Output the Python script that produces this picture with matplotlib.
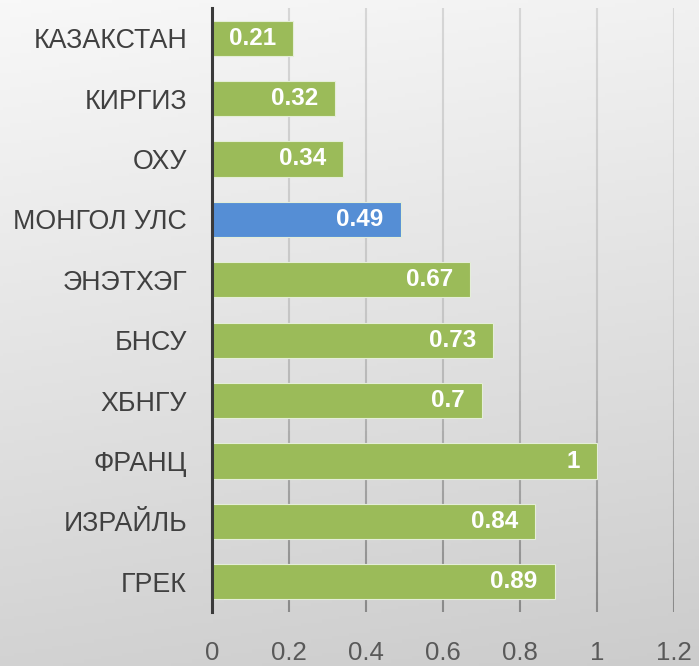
import numpy as np
import matplotlib.pyplot as plt
from matplotlib.collections import LineCollection
from matplotlib.colors import LinearSegmentedColormap

plt.rcParams['font.family'] = ['Liberation Sans', 'DejaVu Sans']

countries = ['КАЗАКСТАН', 'КИРГИЗ', 'ОХУ', 'МОНГОЛ УЛС', 'ЭНЭТХЭГ',
             'БНСУ', 'ХБНГУ', 'ФРАНЦ', 'ИЗРАЙЛЬ', 'ГРЕК']
values = [0.21, 0.32, 0.34, 0.49, 0.67, 0.73, 0.7, 1, 0.84, 0.89]
highlight = 'МОНГОЛ УЛС'
xticks = [0, 0.2, 0.4, 0.6, 0.8, 1, 1.2]
xtick_labels = ['0', '0.2', '0.4', '0.6', '0.8', '1', '1.2']

green = '#9BBB59'
blue = '#558ED5'

fig = plt.figure(figsize=(6.99, 6.66), dpi=100)

# gradient background
bg = fig.add_axes([0, 0, 1, 1], zorder=-10)
yy, xx = np.mgrid[0:1:200j, 0:1:200j]
grad = 0.85 * yy + 0.15 * xx
bg_cmap = LinearSegmentedColormap.from_list('bg', ['#f8f8f8', '#cccccc'])
bg.imshow(grad, cmap=bg_cmap, aspect='auto', extent=[0, 1, 0, 1], origin='upper')
bg.axis('off')

ax = fig.add_axes([212/699, 1 - 612/666, (674-212)/699, (612-8)/666])
ax.patch.set_visible(False)

ypos = np.arange(len(countries))
colors = [blue if c == highlight else green for c in countries]
bars = ax.barh(ypos, values, height=0.58, color=colors,
               edgecolor='#e4eed8', linewidth=0.8, zorder=3)

for b, v in zip(bars, values):
    ax.annotate(f'{v:g}', xy=(v, b.get_y() + b.get_height()/2),
                xytext=(-17, 0), textcoords='offset pixels',
                ha='right', va='center', color='white', fontsize=17.5,
                fontweight='bold', zorder=4)

ax.set_xlim(0, 1.2)
ax.set_ylim(len(countries) - 0.5, -0.5)
ax.set_yticks(ypos)
ax.set_yticklabels(countries, fontsize=19.3, color='#404040')
ax.set_xticks(xticks)
ax.set_xticklabels(xtick_labels, fontsize=18.5, color='#595959')
ax.tick_params(axis='both', length=0)
ax.tick_params(axis='y', pad=18)
ax.tick_params(axis='x', pad=21)

# gridlines darkening towards the bottom
grid_cmap = LinearSegmentedColormap.from_list('grid', ['#d6d6d6', '#c6c6c6', '#8a8a8a'])
n = 60
ys = np.linspace(-0.5, len(countries) - 0.5, n + 1)
for xt in xticks[1:]:
    segs = [[(xt, ys[i]), (xt, ys[i+1])] for i in range(n)]
    lc = LineCollection(segs, colors=grid_cmap(np.linspace(0, 1, n)),
                        linewidths=1.5, zorder=1)
    ax.add_collection(lc)

for s in ['top', 'right', 'bottom']:
    ax.spines[s].set_visible(False)
ax.spines['left'].set_color('#3a3a3a')
ax.spines['left'].set_linewidth(2.2)
ax.spines['left'].set_zorder(5)

fig.savefig('out.png', dpi=100)
